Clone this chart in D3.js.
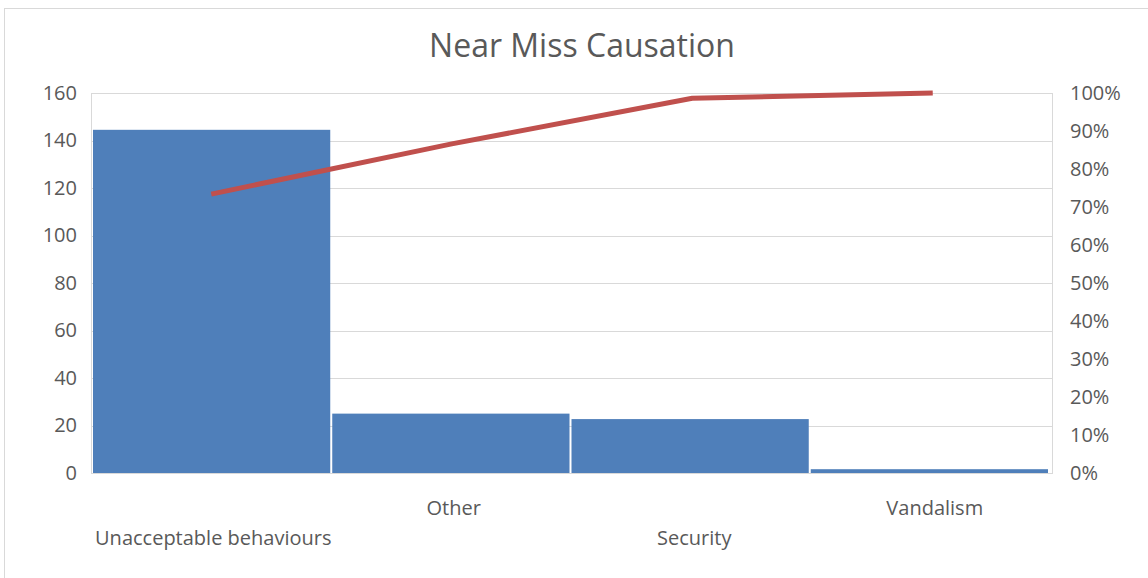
<!DOCTYPE html>
<html>
<head>
<meta charset="utf-8">
<script src="https://cdn.jsdelivr.net/npm/d3@7/dist/d3.min.js"></script>
<style>
  html, body { margin: 0; padding: 0; background: #fff; }
  svg { display: block; }
  text { font-family: "Open Sans", "Noto Sans", sans-serif; fill: #595959; }
</style>
</head>
<body>
<svg id="chart" width="1148" height="578"></svg>
<script>
// Near-miss causes, sorted descending (Pareto order)
const categories = ["Unacceptable behaviours", "Other", "Security", "Vandalism"];
const counts = [144.5, 25, 22.7, 1.6];
// Cumulative share of all near misses, percent
const cumulativePct = [73.4, 86.6, 98.6, 100];
const countTicks = [0, 20, 40, 60, 80, 100, 120, 140, 160];
const pctTicks = [0, 10, 20, 30, 40, 50, 60, 70, 80, 90, 100];

const svg = d3.select("#chart");
const W = 1148, H = 578;
const plot = { left: 91, right: 1053, top: 93, bottom: 473 };

// Chart frame
svg.append("rect")
  .attr("x", 4.5).attr("y", 8.5)
  .attr("width", W + 10).attr("height", H + 10)
  .attr("fill", "#fff").attr("stroke", "#d9d9d9").attr("stroke-width", 1);

// Title
svg.append("text")
  .attr("x", 582).attr("y", 57)
  .attr("text-anchor", "middle")
  .style("font-size", "32px")
  .text("Near Miss Causation");

// Line points sit on the full plot width; bars on a slightly narrower band
const x = d3.scaleBand().domain(categories).range([plot.left, plot.right]);
const xBar = d3.scaleBand().domain(categories).range([plot.left + 1, plot.right - 4]);
const y = d3.scaleLinear().domain([0, 160]).range([plot.bottom, plot.top]);
const yPct = d3.scaleLinear().domain([0, 100]).range([plot.bottom, plot.top]);

// Horizontal gridlines
svg.append("g")
  .selectAll("line")
  .data(countTicks)
  .join("line")
  .attr("x1", plot.left).attr("x2", plot.right)
  .attr("y1", d => Math.round(y(d)) + 0.5).attr("y2", d => Math.round(y(d)) + 0.5)
  .attr("stroke", "#d9d9d9").attr("stroke-width", 1);

// Plot area outline
svg.append("rect")
  .attr("x", plot.left + 0.5).attr("y", plot.top + 0.5)
  .attr("width", plot.right - plot.left - 1).attr("height", plot.bottom - plot.top)
  .attr("fill", "none").attr("stroke", "#d9d9d9").attr("stroke-width", 1);

// Bars
svg.append("g")
  .selectAll("rect")
  .data(categories)
  .join("rect")
  .attr("x", d => xBar(d) + 1)
  .attr("width", xBar.bandwidth() - 2)
  .attr("y", (d, i) => y(counts[i]))
  .attr("height", (d, i) => y(0) - y(counts[i]))
  .attr("fill", "#4f7fba");

// Cumulative percentage line
const line = d3.line()
  .x((d, i) => x(categories[i]) + x.bandwidth() / 2)
  .y(d => yPct(d));
svg.append("path")
  .datum(cumulativePct)
  .attr("d", line)
  .attr("fill", "none")
  .attr("stroke", "#c0504d")
  .attr("stroke-width", 5)
  .attr("stroke-linejoin", "round");

// Left axis (counts)
const leftAxis = svg.append("g")
  .attr("transform", `translate(${plot.left - 14},0)`)
  .call(d3.axisLeft(y).tickValues(countTicks).tickSize(0).tickPadding(0));
leftAxis.select(".domain").remove();
leftAxis.selectAll("text")
  .attr("fill", "#595959")
  .style("font-size", "20px")
  .style("font-family", "'Open Sans', 'Noto Sans', sans-serif");

// Right axis (cumulative percent)
const rightAxis = svg.append("g")
  .attr("transform", `translate(${plot.right + 17},0)`)
  .call(d3.axisRight(yPct).tickValues(pctTicks).tickSize(0).tickPadding(0).tickFormat(d => d + "%"));
rightAxis.select(".domain").remove();
rightAxis.selectAll("text")
  .attr("fill", "#595959")
  .style("font-size", "20px")
  .style("font-family", "'Open Sans', 'Noto Sans', sans-serif");

// Category labels, staggered on two rows
svg.append("g")
  .selectAll("text")
  .data(categories)
  .join("text")
  .attr("x", d => x(d) + x.bandwidth() / 2 + 2)
  .attr("y", (d, i) => i % 2 === 0 ? 545 : 515)
  .attr("text-anchor", "middle")
  .style("font-size", "20px")
  .text(d => d);
</script>
</body>
</html>
